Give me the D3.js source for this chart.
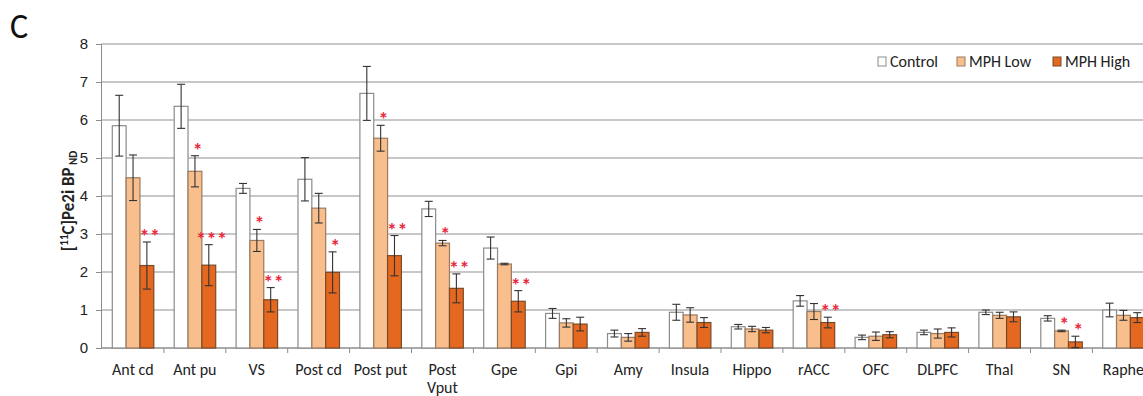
<!DOCTYPE html>
<html>
<head>
<meta charset="utf-8">
<script src="https://cdn.jsdelivr.net/npm/d3@7"></script>
<style>
  body { margin: 0; background: #fff; }
  svg { font-family: Calibri, Carlito, "Liberation Sans", "Open Sans", sans-serif; }
</style>
</head>
<body>
<div id="chart-container"></div>
<script>
// regions on the x axis
const categories = ["Ant cd", "Ant pu", "VS", "Post cd", "Post put", "Post\nVput", "Gpe", "Gpi",
    "Amy", "Insula", "Hippo", "rACC", "OFC", "DLPFC", "Thal", "SN", "Raphe"];
const seriesNames = ["Control", "MPH Low", "MPH High"];

// mean values per series
const controlValues = [5.85, 6.36, 4.2, 4.44, 6.7, 3.66, 2.63, 0.91, 0.38, 0.94, 0.56, 1.24, 0.28, 0.41, 0.94, 0.78, 1.0];
const lowValues = [4.48, 4.65, 2.83, 3.68, 5.52, 2.76, 2.21, 0.66, 0.28, 0.87, 0.5, 0.96, 0.31, 0.38, 0.86, 0.45, 0.86];
const highValues = [2.17, 2.18, 1.27, 1.99, 2.43, 1.57, 1.23, 0.63, 0.41, 0.67, 0.47, 0.67, 0.35, 0.41, 0.82, 0.16, 0.8];

// error bars (+/-)
const controlErr = [0.8, 0.58, 0.13, 0.57, 0.71, 0.2, 0.29, 0.13, 0.09, 0.21, 0.06, 0.14, 0.06, 0.06, 0.06, 0.07, 0.18];
const lowErr = [0.6, 0.41, 0.29, 0.39, 0.34, 0.07, 0.02, 0.11, 0.1, 0.19, 0.07, 0.21, 0.11, 0.12, 0.08, 0.02, 0.13];
const highErr = [0.62, 0.54, 0.32, 0.54, 0.53, 0.38, 0.28, 0.18, 0.1, 0.13, 0.07, 0.14, 0.08, 0.12, 0.13, 0.15, 0.13];

// significance markers
const lowStars = ["", "*", "*", "", "*", "*", "", "", "", "", "", "", "", "", "", "*", ""];
const highStars = ["**", "***", "**", "*", "**", "**", "**", "", "", "", "", "**", "", "", "", "*", ""];

const yTicks = [0, 1, 2, 3, 4, 5, 6, 7, 8];

const width = 1143;
const height = 396;
const margin = { top: 44, left: 101, bottom: 48 };
const bandStart = 102;
const bandWidth = 61.9;

const svg = d3.select("#chart-container")
    .append("svg")
    .attr("width", width)
    .attr("height", height);

const x0 = d3.scaleBand()
    .domain(categories)
    .range([bandStart, bandStart + bandWidth * categories.length]);

const x1 = d3.scaleBand()
    .domain(seriesNames)
    .range([10.3, 51.8]);

const y = d3.scaleLinear()
    .domain([0, 8])
    .range([height - margin.bottom, margin.top]);

const colors = { "Control": "#ffffff", "MPH Low": "#f8bf8c", "MPH High": "#e4681f" };
const strokes = { "Control": "#8c8c8c", "MPH Low": "#9a7a60", "MPH High": "#7a4a2a" };

// grid lines
svg.append("g")
    .selectAll("line")
    .data(yTicks.slice(1))
    .join("line")
    .attr("x1", margin.left)
    .attr("x2", width)
    .attr("y1", d => y(d))
    .attr("y2", d => y(d))
    .attr("stroke", "#b4b4b4")
    .attr("stroke-width", 1.3);

// y axis
const yAxis = svg.append("g")
    .attr("transform", `translate(${margin.left},0)`)
    .call(d3.axisLeft(y).tickValues(yTicks).tickSize(5).tickPadding(8));
yAxis.select(".domain").attr("stroke", "#8c8c8c");
yAxis.selectAll(".tick line").attr("stroke", "#8c8c8c");
yAxis.selectAll("text").attr("font-size", 15).attr("fill", "#222");

// x axis line and separators
svg.append("line")
    .attr("x1", margin.left)
    .attr("x2", width)
    .attr("y1", y(0))
    .attr("y2", y(0))
    .attr("stroke", "#8c8c8c")
    .attr("stroke-width", 1.3);

svg.append("g")
    .selectAll("line")
    .data(categories.slice(1))
    .join("line")
    .attr("x1", d => x0(d))
    .attr("x2", d => x0(d))
    .attr("y1", y(0))
    .attr("y2", y(0) + 5)
    .attr("stroke", "#8c8c8c");

// category labels
svg.append("g")
    .selectAll("text")
    .data(categories)
    .join("text")
    .attr("x", d => x0(d) + bandWidth / 2)
    .attr("y", 375)
    .attr("text-anchor", "middle")
    .attr("font-size", 16)
    .attr("fill", "#222")
    .each(function (d) {
        const lines = d.split("\n");
        d3.select(this).selectAll("tspan")
            .data(lines)
            .join("tspan")
            .attr("x", x0(d) + bandWidth / 2)
            .attr("dy", (l, i) => i === 0 ? 0 : 18)
            .text(l => l);
    });

// bars
const rows = categories.map((c, i) => ({
    cat: c,
    items: [
        { name: "Control", v: controlValues[i], e: controlErr[i], star: "" },
        { name: "MPH Low", v: lowValues[i], e: lowErr[i], star: lowStars[i] },
        { name: "MPH High", v: highValues[i], e: highErr[i], star: highStars[i] }
    ]
}));

const groups = svg.append("g")
    .selectAll("g")
    .data(rows)
    .join("g")
    .attr("transform", d => `translate(${x0(d.cat)},0)`);

groups.selectAll("rect")
    .data(d => d.items)
    .join("rect")
    .attr("x", d => x1(d.name))
    .attr("y", d => y(d.v))
    .attr("width", x1.bandwidth())
    .attr("height", d => y(0) - y(d.v))
    .attr("fill", d => colors[d.name])
    .attr("stroke", d => strokes[d.name])
    .attr("stroke-width", 1.2);

// error bars
const errG = groups.selectAll("g.err")
    .data(d => d.items)
    .join("g")
    .attr("class", "err")
    .attr("stroke", "#333")
    .attr("stroke-width", 1.1);

errG.append("line")
    .attr("x1", d => x1(d.name) + x1.bandwidth() / 2)
    .attr("x2", d => x1(d.name) + x1.bandwidth() / 2)
    .attr("y1", d => y(d.v + d.e))
    .attr("y2", d => y(d.v - d.e));

errG.selectAll("line.cap")
    .data(d => [d.v + d.e, d.v - d.e].map(val => ({ name: d.name, val })))
    .join("line")
    .attr("class", "cap")
    .attr("x1", d => x1(d.name) + x1.bandwidth() / 2 - 4)
    .attr("x2", d => x1(d.name) + x1.bandwidth() / 2 + 4)
    .attr("y1", d => y(d.val))
    .attr("y2", d => y(d.val));

// significance stars
groups.selectAll("text.star")
    .data(d => d.items.filter(it => it.star))
    .join("text")
    .attr("class", "star")
    .attr("x", d => x1(d.name) + x1.bandwidth() / 2 + 3)
    .attr("y", d => y(d.v + d.e) + 1)
    .attr("text-anchor", "middle")
    .attr("font-size", 20)
    .attr("font-weight", "bold")
    .attr("letter-spacing", 0.5)
    .attr("fill", "#e8283c")
    .text(d => d.star);

// legend
const legendX = [878, 957, 1053];
const legend = svg.append("g")
    .selectAll("g")
    .data(seriesNames)
    .join("g")
    .attr("transform", (d, i) => `translate(${legendX[i]},57)`);

legend.append("rect")
    .attr("width", 8)
    .attr("height", 9)
    .attr("fill", d => colors[d])
    .attr("stroke", d => strokes[d]);

legend.append("text")
    .attr("x", 12)
    .attr("y", 10)
    .attr("font-size", 16)
    .attr("fill", "#222")
    .text(d => d);

// y axis title
const yTitle = svg.append("text")
    .attr("transform", `translate(74,201) rotate(-90)`)
    .attr("text-anchor", "middle")
    .attr("font-size", 17)
    .attr("font-weight", "bold")
    .attr("fill", "#222");
yTitle.append("tspan").text("[");
yTitle.append("tspan").attr("font-size", 11).attr("dy", -6).text("11");
yTitle.append("tspan").attr("dy", 6).text("C]Pe2i BP");
yTitle.append("tspan").attr("font-size", 11).attr("dy", 3).text(" ND");

// panel letter
svg.append("text")
    .attr("x", 10)
    .attr("y", 38)
    .attr("font-size", 34)
    .attr("fill", "#111")
    .text("C");
</script>
</body>
</html>
